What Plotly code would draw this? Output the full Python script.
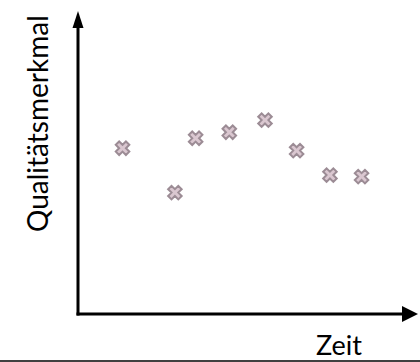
import plotly.graph_objects as go

# Data (time, quality characteristic)
zeit = [1.31, 2.85, 3.46, 4.45, 5.50, 6.43, 7.41, 8.34]
qualitaet = [5.49, 4.02, 5.82, 6.02, 6.42, 5.41, 4.60, 4.55]

x_label = "Zeit"
y_label = "Qualitätsmerkmal"

W, H = 420, 362
ML, MR, MT, MB = 78, 2, 12, 48
pw, ph = W - ML - MR, H - MT - MB

def px(xp):
    return (xp - ML) / pw

def py(yp):
    return (H - MB - yp) / ph

fig = go.Figure(go.Scatter(
    x=zeit, y=qualitaet, mode="markers",
    marker=dict(symbol="x", size=12, color="#dac7d0",
                line=dict(color="#9c8c95", width=2)),
    hoverinfo="skip", showlegend=False,
))

shapes = [
    # y axis line
    dict(type="line", xref="paper", yref="paper", x0=0, x1=0, y0=py(315.5), y1=py(24),
         line=dict(color="black", width=3)),
    # x axis line
    dict(type="line", xref="paper", yref="paper", x0=px(76.5), x1=px(405), y0=0, y1=0,
         line=dict(color="black", width=3)),
    # up arrow head
    dict(type="path", xref="paper", yref="paper",
         path=f"M {px(72.5)},{py(28)} L {px(78)},{py(11)} L {px(83.5)},{py(28)} Z",
         fillcolor="black", line=dict(color="black", width=0)),
    # right arrow head
    dict(type="path", xref="paper", yref="paper",
         path=f"M {px(402)},{py(306)} L {px(418)},{py(314)} L {px(402)},{py(322)} Z",
         fillcolor="black", line=dict(color="black", width=0)),
    # bottom rule
    dict(type="line", xref="paper", yref="paper", x0=px(0), x1=px(420), y0=py(361), y1=py(361),
         line=dict(color="#404040", width=2)),
]

annotations = [
    dict(text=x_label, xref="paper", yref="paper", x=px(339), y=py(344),
         xanchor="center", yanchor="middle", showarrow=False,
         font=dict(family="Lato", size=27, color="black")),
    dict(text=y_label, xref="paper", yref="paper", x=px(37), y=py(124),
         xanchor="center", yanchor="middle", showarrow=False, textangle=-90,
         font=dict(family="Lato", size=28, color="black")),
]

fig.update_layout(
    width=W, height=H,
    margin=dict(l=ML, r=MR, t=MT, b=MB),
    paper_bgcolor="white", plot_bgcolor="white",
    xaxis=dict(range=[0, 10], visible=False, fixedrange=True),
    yaxis=dict(range=[0, 10], visible=False, fixedrange=True),
    shapes=shapes, annotations=annotations,
)

fig.write_html("out.html", config={"displayModeBar": False},
               post_script="document.body.style.margin='0';document.body.style.overflow='hidden';")
